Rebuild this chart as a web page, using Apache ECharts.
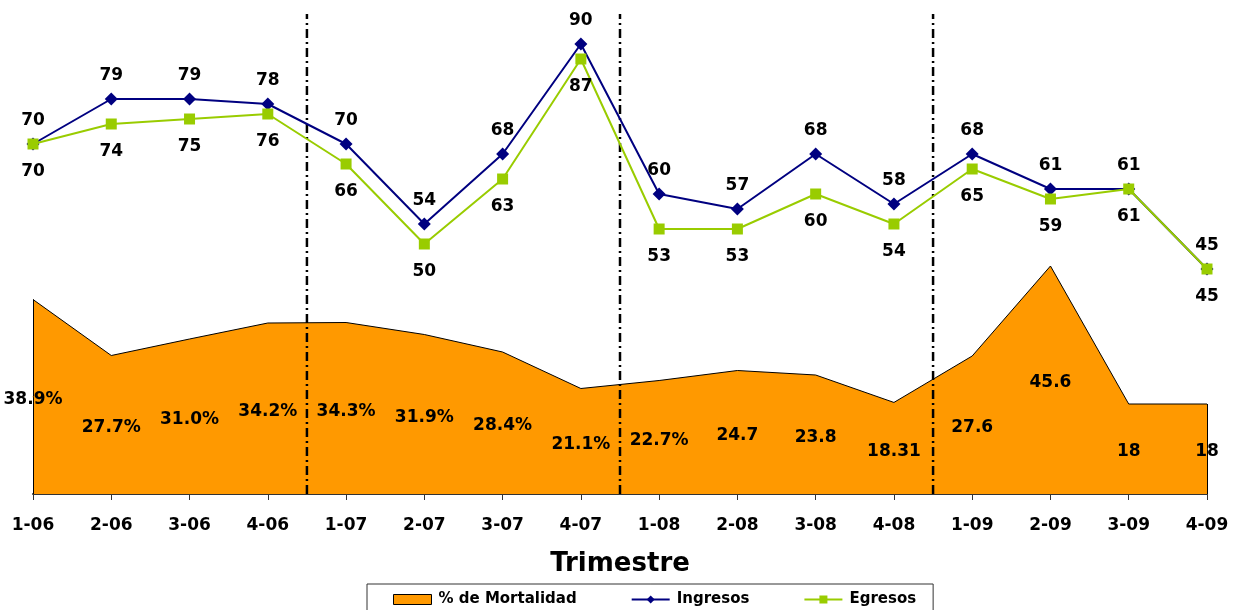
<!DOCTYPE html>
<html>
<head>
<meta charset="utf-8">
<script src="https://cdn.jsdelivr.net/npm/echarts@6/dist/echarts.min.js"></script>
<style>
html,body{margin:0;padding:0;background:#fff;}
#chart{width:1237px;height:610px;}
</style>
</head>
<body>
<div id="chart"></div>
<script>
const categories = ['1-06','2-06','3-06','4-06','1-07','2-07','3-07','4-07','1-08','2-08','3-08','4-08','1-09','2-09','3-09','4-09'];
const mortalidad = [38.9,27.7,31.0,34.2,34.3,31.9,28.4,21.1,22.7,24.7,23.8,18.31,27.6,45.6,18,18];
const mortalidadLabels = ['38.9%','27.7%','31.0%','34.2%','34.3%','31.9%','28.4%','21.1%','22.7%','24.7','23.8','18.31','27.6','45.6','18','18'];
const ingresos = [70,79,79,78,70,54,68,90,60,57,68,58,68,61,61,45];
const egresos = [70,74,75,76,66,50,63,87,53,53,60,54,65,59,61,45];
const separators = [3.5, 7.5, 11.5];
const separatorTop = 96;

const FONT = 'DejaVu Sans';
const chart = echarts.init(document.getElementById('chart'), null, {renderer:'canvas'});

const sepSeries = separators.map(function(x){
  return {
    type:'line', xAxisIndex:1, yAxisIndex:0, silent:true, symbol:'none', z:5,
    data:[[x,0],[x,separatorTop]],
    lineStyle:{color:'#000', width:2.5, type:[9,4,2,4]}
  };
});

const option = {
  animation:false,
  backgroundColor:'#fff',
  grid:{left:33, right:30, top:4, bottom:116, containLabel:false},
  xAxis:[{
    type:'category', data:categories, boundaryGap:false,
    axisLine:{lineStyle:{color:'#333', width:2}},
    axisTick:{show:true, length:6, alignWithLabel:true, lineStyle:{color:'#333', width:1}},
    axisLabel:{fontFamily:FONT, fontWeight:'bold', fontSize:17, color:'#000', margin:23},
    splitLine:{show:false},
    name:'Trimestre', nameLocation:'middle', nameGap:57,
    nameTextStyle:{fontFamily:FONT, fontWeight:'bold', fontSize:26, color:'#000'}
  },{
    type:'value', min:0, max:categories.length-1, show:false
  }],
  yAxis:[{type:'value', min:0, max:98, show:false, splitLine:{show:false}}],
  legend:{
    left:367, top:584, orient:'horizontal',
    borderColor:'#333', borderWidth:1,
    padding:[8,17,14,26], itemGap:54, itemWidth:38, itemHeight:10,
    textStyle:{fontFamily:FONT, fontWeight:'bold', fontSize:15, color:'#000', padding:[0,0,0,2]},
    data:[
      {name:'% de Mortalidad', icon:'rect', itemStyle:{color:'#FF9900', borderColor:'#000', borderWidth:1}},
      {name:'Ingresos'},
      {name:'Egresos'}
    ]
  },
  series:[
    {
      name:'% de Mortalidad', type:'line', data:mortalidad, symbol:'none', z:1,
      lineStyle:{color:'#000', width:1},
      itemStyle:{color:'#FF9900'},
      areaStyle:{color:'#FF9900', opacity:1},
      markLine:{
        silent:true, symbol:'none', label:{show:false},
        lineStyle:{color:'#000', width:1, type:'solid'},
        data:[
          [{coord:[0,0]},{coord:[0,mortalidad[0]]}],
          [{coord:[categories.length-1,0]},{coord:[categories.length-1,mortalidad[mortalidad.length-1]]}]
        ]
      }
    },
    {
      name:'mortLabels', type:'scatter', xAxisIndex:0, symbolSize:1, z:6, silent:true,
      itemStyle:{color:'#FF9900', opacity:1},
      data:mortalidad.map(function(v,i){return [i, v/2];}),
      label:{show:true, position:'inside', offset:[0,3], fontFamily:FONT, fontWeight:'bold', fontSize:17,
        color:'#000', opacity:1, textBorderWidth:0,
        formatter:function(p){return mortalidadLabels[p.dataIndex];}}
    }
  ].concat(sepSeries).concat([
    {
      name:'Ingresos', type:'line', data:ingresos, z:10,
      symbol:'diamond', symbolSize:13,
      lineStyle:{color:'#000080', width:2},
      itemStyle:{color:'#000080'},
      label:{show:true, position:'top', distance:8, fontFamily:FONT, fontWeight:'bold', fontSize:17, color:'#000'}
    },
    {
      name:'Egresos', type:'line', data:egresos, z:11,
      symbol:'rect', symbolSize:11,
      lineStyle:{color:'#99CC00', width:2},
      itemStyle:{color:'#99CC00'},
      label:{show:true, position:'bottom', distance:14, fontFamily:FONT, fontWeight:'bold', fontSize:17, color:'#000'}
    }
  ])
};
chart.setOption(option);
</script>
</body>
</html>
